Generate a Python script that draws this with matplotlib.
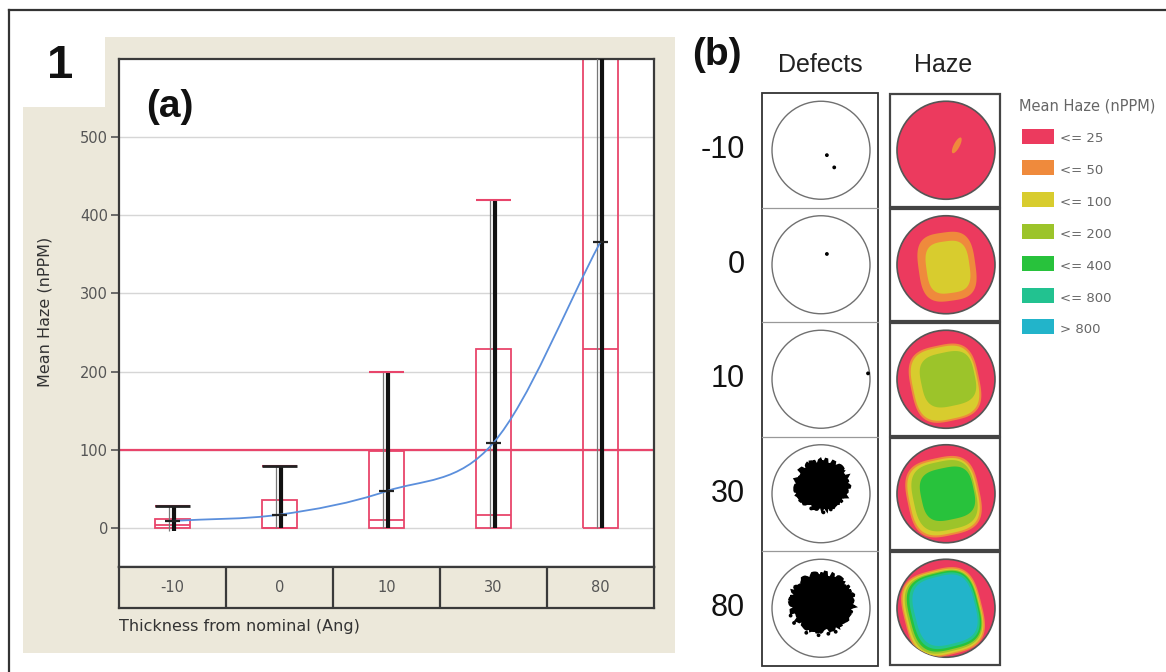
import numpy as np
import matplotlib
matplotlib.use("Agg")
import matplotlib.pyplot as plt
from matplotlib.patches import Rectangle, Circle, Polygon, Ellipse, PathPatch
from matplotlib.path import Path

# ---------------- data : panel (a) ----------------
thickness = ["-10", "0", "10", "30", "80"]
box_low = [0, 0, 0, 0, 0]
box_high = [11, 36, 98, 229, 700]
box_mid = [4, 0, 10, 17, 229]
whisk_low = [-4, 0, 0, 0, 0]
whisk_high = [28, 79, 200, 420, 700]
means = [9, 17, 47, 109, 366]
spec_limit = 100
y_ticks = [0, 100, 200, 300, 400, 500]

# ---------------- data : panel (b) ----------------
legend_labels = ["<= 25", "<= 50", "<= 100", "<= 200", "<= 400", "<= 800", "> 800"]
legend_colors = ["#ec3a5e", "#ef8a3c", "#d8cc2e", "#9cc42a", "#28c23c", "#22c290", "#22b4ca"]
# haze layers per wafer: (level, dx, dy, half-w, half-h, angle) in wafer radii (dy up)
haze_m10 = [(1, 0.22, 0.10, 0.06, 0.18, -28)]
haze_0 = [(1, 0.02, -0.04, 0.58, 0.70, 8), (2, 0.04, -0.05, 0.44, 0.53, 8)]
haze_10 = [(1, -0.02, -0.08, 0.70, 0.78, 12), (2, -0.02, -0.08, 0.66, 0.74, 12),
           (3, 0.04, 0.00, 0.55, 0.55, 12)]
haze_30 = [(1, -0.05, -0.06, 0.74, 0.80, 12), (2, -0.05, -0.06, 0.70, 0.76, 12),
           (3, -0.03, -0.04, 0.64, 0.70, 12), (4, 0.03, 0.00, 0.54, 0.53, 12)]
haze_80 = [(1, -0.06, -0.08, 0.80, 0.88, 14), (2, -0.06, -0.08, 0.77, 0.85, 14),
           (3, -0.05, -0.07, 0.74, 0.82, 14), (4, -0.04, -0.06, 0.71, 0.79, 14),
           (5, -0.03, -0.05, 0.67, 0.75, 14), (6, -0.02, -0.04, 0.62, 0.70, 14)]
haze_maps = [haze_m10, haze_0, haze_10, haze_30, haze_80]
# defect clusters: (dx, dy, half-w, half-h) in wafer radii, plus isolated defect dots
defect_blobs = [None, None, None, (0.02, 0.18, 0.52, 0.48), (0.02, 0.12, 0.62, 0.57)]
defect_dots = [[(0.12, -0.10), (0.27, -0.35)], [(0.12, 0.22)], [(0.96, 0.12)],
               [(-0.20, -0.30), (0.05, -0.38), (0.20, -0.32), (-0.35, -0.12)],
               [(-0.55, -0.30), (-0.30, -0.50), (-0.05, -0.55), (0.15, -0.52), (0.30, -0.48), (-0.62, -0.15)]]

W, H = 1166, 672
PINK = "#e8456b"
BEIGE = "#ece8da"
GREY = "#555555"

fig = plt.figure(figsize=(W / 100, H / 100), dpi=100)
fig.patch.set_facecolor("white")

# background axes in pixel coordinates
bg = fig.add_axes([0, 0, 1, 1], zorder=0)
bg.set_xlim(0, W)
bg.set_ylim(H, 0)
bg.axis("off")

bg.add_patch(Polygon([(105, 37), (675, 37), (675, 653), (23, 653), (23, 107), (105, 107)],
                     closed=True, facecolor=BEIGE, edgecolor="none"))
bg.plot([9, W], [10, 10], color="#333333", lw=1.6)
bg.plot([9, 9], [10, H], color="#333333", lw=1.6)

bg.text(60, 66, "1", fontsize=34, fontweight="bold", family="Liberation Sans",
        ha="center", va="center", color="#111111")
bg.text(45, 312, "Mean Haze (nPPM)", rotation=90, fontsize=11.5, color="#333333",
        ha="center", va="center", family="DejaVu Sans")
bg.text(119, 626, "Thickness from nominal (Ang)", fontsize=11.5, color="#333333",
        ha="left", va="center", family="DejaVu Sans")

# ---------------- panel (a) ----------------
ax = fig.add_axes([119 / W, 1 - 567 / H, (654 - 119) / W, (567 - 59) / H], zorder=2)
ax.set_facecolor("white")
ax.set_xlim(-0.5, 4.5)
ax.set_ylim(-50, 600)
ax.set_yticks(y_ticks)
ax.set_xticks([])
ax.tick_params(axis="y", direction="out", length=6, width=1.2, color=GREY,
               labelcolor=GREY, labelsize=10.5, pad=2)
for s in ["left", "top", "right", "bottom"]:
    ax.spines[s].set_color("#3a3a3a")
    ax.spines[s].set_linewidth(1.6)
for yv in y_ticks:
    ax.axhline(yv, color="#d6d6d6", lw=1, zorder=0)
ax.axhline(spec_limit, color=PINK, lw=1.6, zorder=1)

x = np.arange(len(thickness))
bw = 0.32
ax.bar(x, np.array(box_high) - np.array(box_low), bottom=box_low, width=bw,
       fill=False, edgecolor=PINK, lw=1.3, zorder=2)
ax.hlines(box_mid, x - bw / 2, x + bw / 2, color=PINK, lw=1.3, zorder=2)
ax.vlines(x - 0.035, whisk_low, whisk_high, color="#777777", lw=0.9, zorder=3)
ax.vlines(x + 0.01, whisk_low, whisk_high, color="#111111", lw=3.0, zorder=3)
ax.hlines(whisk_high, x - bw / 2, x + bw / 2, color=PINK, lw=1.5, zorder=3)
ax.hlines(whisk_high[:2], x[:2] - bw / 2, x[:2] + bw / 2, color="#222222", lw=2.0, zorder=3)
ax.hlines(means, x - 0.07, x + 0.07, color="#222222", lw=1.6, zorder=5)

# smooth mean curve (Catmull-Rom through the means)
pts = np.column_stack([x, means]).astype(float)
tang = np.zeros_like(pts)
tang[1:-1] = (pts[2:] - pts[:-2]) / 2
tang[0] = pts[1] - pts[0]
tang[-1] = pts[-1] - pts[-2]
verts = [pts[0]]
codes = [Path.MOVETO]
for i in range(len(pts) - 1):
    verts += [pts[i] + tang[i] / 3, pts[i + 1] - tang[i + 1] / 3, pts[i + 1]]
    codes += [Path.CURVE4] * 3
ax.add_patch(PathPatch(Path(verts, codes), facecolor="none", edgecolor="#5b8fdc", lw=1.3, zorder=4))

ax.text(0.05, 0.905, "(a)", transform=ax.transAxes, fontsize=28, fontweight="bold",
        family="Liberation Sans", ha="left", va="center", color="#111111")

# category box
axc = fig.add_axes([119 / W, 1 - 608 / H, (654 - 119) / W, 41 / H], zorder=2)
axc.set_facecolor(BEIGE)
axc.set_xlim(-0.5, 4.5)
axc.set_ylim(0, 1)
axc.set_xticks([])
axc.set_yticks([])
for s in axc.spines.values():
    s.set_color("#3a3a3a")
    s.set_linewidth(1.6)
for b in x[:-1] + 0.5:
    axc.axvline(b, color="#3a3a3a", lw=1.6)
for xi, lab in zip(x, thickness):
    axc.text(xi, 0.5, lab, ha="center", va="center", fontsize=10.5, color=GREY)

# ---------------- panel (b) ----------------
bg.text(692, 55, "(b)", fontsize=28, fontweight="bold", family="Liberation Sans",
        ha="left", va="center", color="#111111")
bg.text(820, 65, "Defects", fontsize=18, family="Liberation Sans", ha="center", va="center", color="#222222")
bg.text(943, 65, "Haze", fontsize=18, family="Liberation Sans", ha="center", va="center", color="#222222")

R = 49
row_top = 93
row_h = 114.5
dcx, hcx = 821, 946
bg.add_patch(Rectangle((762, row_top), 116, row_h * 5, fill=False, edgecolor="#333333", lw=1.3))


def blob(cx, cy, a, b, ang, n=3.2):
    t = np.linspace(0, 2 * np.pi, 240)
    c, s = np.cos(t), np.sin(t)
    px = a * np.sign(c) * np.abs(c) ** (2 / n)
    py = b * np.sign(s) * np.abs(s) ** (2 / n)
    th = np.deg2rad(ang)
    rx = px * np.cos(th) - py * np.sin(th)
    ry = px * np.sin(th) + py * np.cos(th)
    return np.column_stack([cx + rx, cy - ry])


for i, lab in enumerate(thickness):
    top = row_top + i * row_h
    cy = top + row_h / 2
    bg.text(745, cy, lab, fontsize=22, family="Liberation Sans", ha="right", va="center", color="#111111")
    if i > 0:
        bg.plot([762, 878], [top, top], color="#999999", lw=0.9)
    # defects wafer
    bg.add_patch(Circle((dcx, cy), R, fill=False, edgecolor="#707070", lw=1.0))
    if defect_blobs[i] is not None:
        ddx, ddy, dw, dh = defect_blobs[i]
        e = Ellipse((dcx + ddx * R, cy - ddy * R), 2 * dw * R, 2 * dh * R, facecolor="black",
                    edgecolor="black", lw=2)
        e.set_sketch_params(scale=2.5, length=6, randomness=10)
        bg.add_patch(e)
    for (ddx, ddy) in defect_dots[i]:
        bg.add_patch(Circle((dcx + ddx * R, cy - ddy * R), 1.2, color="black"))
    # haze wafer
    bg.add_patch(Rectangle((890, top + 1), 110, row_h - 2, facecolor="white", edgecolor="#444444", lw=1.6))
    wafer = Circle((hcx, cy), R, facecolor=legend_colors[0], edgecolor="#555555", lw=1.2)
    bg.add_patch(wafer)
    for (lvl, hdx, hdy, hw, hh, ang) in haze_maps[i]:
        p = Polygon(blob(hcx + hdx * R, cy - hdy * R, hw * R, hh * R, ang, n=2.0 if hw < 0.1 else 3.2),
                    closed=True, facecolor=legend_colors[lvl], edgecolor="none")
        bg.add_patch(p)
        p.set_clip_path(wafer)

# legend
bg.text(1019, 106, "Mean Haze (nPPM)", fontsize=10.5, color="#666666", ha="left", va="center",
        family="DejaVu Sans")
for k, (lab, col) in enumerate(zip(legend_labels, legend_colors)):
    yc = 136 + k * 31.8
    bg.add_patch(Rectangle((1022, yc - 7.5), 32, 15, facecolor=col, edgecolor="none"))
    bg.text(1060, yc + 3, lab, fontsize=9.5, color="#666666", ha="left", va="center", family="DejaVu Sans")

fig.savefig("out.png", dpi=100, facecolor="white")
